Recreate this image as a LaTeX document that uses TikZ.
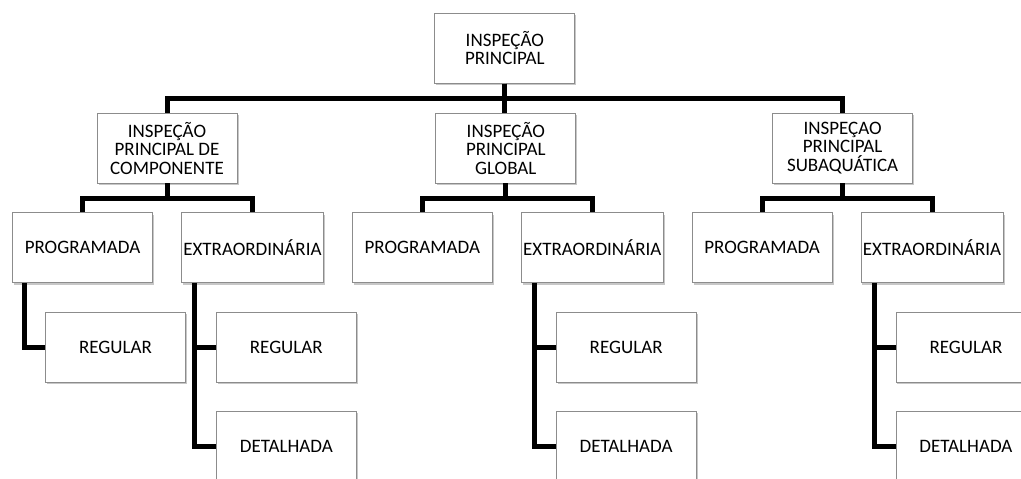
\documentclass[tikz,border=0pt]{standalone}
\usepackage{fontspec}
\setmainfont{Carlito}
\usetikzlibrary{positioning,shadows}

\begin{document}
\begin{tikzpicture}[
    x=1pt, y=-1pt,
    node distance=29pt and 28pt,
    box/.style={draw=black!45, fill=white, line width=0.8pt, align=center,
        minimum width=140pt, minimum height=70pt, inner sep=2pt,
        font=\fontsize{19}{18.5}\selectfont,
        drop shadow={shadow xshift=1.5pt, shadow yshift=-2pt, fill=black, opacity=0.22}},
    link/.style={draw, line width=5pt}
]
\useasboundingbox (0,0) rectangle (1021,479);
\clip (0,0) rectangle (1021,479);

% nivel 1 e 2
\node[box] (comp) at (167,148) {INSPEÇÃO\\PRINCIPAL DE\\COMPONENTE};
\node[box, right=198pt of comp] (global) {INSPEÇÃO\\PRINCIPAL\\GLOBAL};
\node[box, right=196pt of global] (sub) {INSPEÇAO\\PRINCIPAL\\SUBAQUÁTICA};
\node[box, above=29pt of global, xshift=-1pt] (main) {INSPEÇÃO\\PRINCIPAL};

% nivel 3
\node[box] (prog1) at (82.5,247.5) {PROGRAMADA};
\node[box, right=of prog1] (extra1) {EXTRAORDINÁRIA};
\node[box, right=of extra1] (prog2) {PROGRAMADA};
\node[box, right=of prog2] (extra2) {EXTRAORDINÁRIA};
\node[box, right=of extra2] (prog3) {PROGRAMADA};
\node[box, right=of prog3] (extra3) {EXTRAORDINÁRIA};

% nivel 4
\node[box, below right=29pt and 33pt of prog1.south west] (reg1) {REGULAR};
\node[box, below right=29pt and 35pt of extra1.south west] (reg2) {REGULAR};
\node[box, below=28pt of reg2] (det2) {DETALHADA};
\node[box, below right=29pt and 35pt of extra2.south west] (reg3) {REGULAR};
\node[box, below=28pt of reg3] (det3) {DETALHADA};
\node[box, below right=29pt and 35pt of extra3.south west] (reg4) {REGULAR};
\node[box, below=28pt of reg4] (det4) {DETALHADA};

\draw[link] (main.south) -- ++(0,15) -| (comp.north);
\draw[link] (main.south) -- ++(0,15) -| (sub.north);
\draw[link] (main.south) -- (main.south |- global.north);

\draw[link] (comp.south) -- ++(0,15) -| (prog1.north);
\draw[link] (comp.south) -- ++(0,15) -| (extra1.north);
\draw[link] (global.south) -- ++(0,15) -| (prog2.north);
\draw[link] (global.south) -- ++(0,15) -| (extra2.north);
\draw[link] (sub.south) -- ++(0,15) -| (prog3.north);
\draw[link] (sub.south) -- ++(0,15) -| (extra3.north);

\draw[link] ([xshift=12pt]prog1.south west) |- (reg1.west);
\draw[link] ([xshift=14pt]extra1.south west) |- (reg2.west);
\draw[link] ([xshift=14pt]extra1.south west) |- (det2.west);
\draw[link] ([xshift=14pt]extra2.south west) |- (reg3.west);
\draw[link] ([xshift=14pt]extra2.south west) |- (det3.west);
\draw[link] ([xshift=14pt]extra3.south west) |- (reg4.west);
\draw[link] ([xshift=14pt]extra3.south west) |- (det4.west);
\end{tikzpicture}
\end{document}
